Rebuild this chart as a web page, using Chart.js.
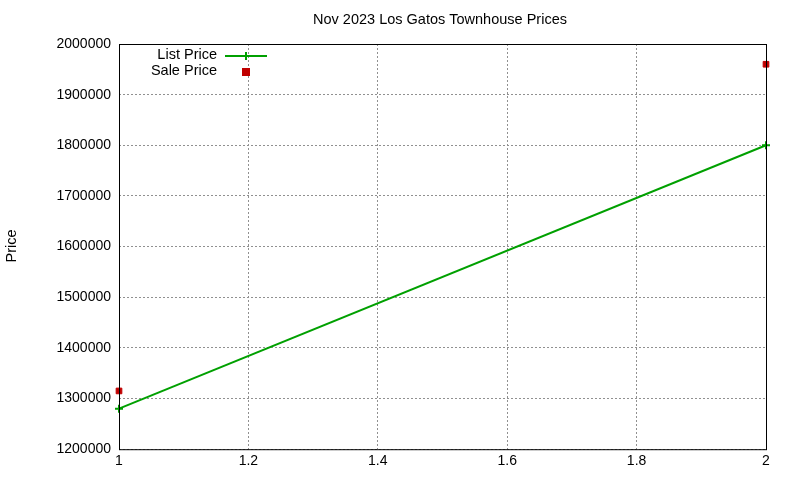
<!DOCTYPE html>
<html><head><meta charset="utf-8">
<script src="https://cdn.jsdelivr.net/npm/chart.js@4"></script>
<style>html,body{margin:0;padding:0;background:#fff}#w{width:800px;height:480px}</style>
</head><body><div id="w"><canvas id="c" width="800" height="480"></canvas></div>
<script>
const xValues = [1, 2];
const listPrice = [1280000, 1800000];
const salePrice = [1315000, 1960000];
const titleText = 'Nov 2023 Los Gatos Townhouse Prices';
const yTitle = 'Price';
const legendLabels = ['List Price', 'Sale Price'];

const F = 'Liberation Sans, Arial, sans-serif';
const deco = {
  id: 'deco',
  afterDraw(ch) {
    const c = ch.ctx, a = ch.chartArea;
    c.save();
    c.strokeStyle = '#000'; c.lineWidth = 1; c.setLineDash([]);
    c.strokeRect(a.left + 0.5, a.top + 0.5, a.right - a.left, a.bottom - a.top);
    c.font = '14.5px ' + F; c.fillStyle = '#000';
    c.textAlign = 'center'; c.textBaseline = 'middle';
    c.fillText(titleText, 440, 20);
    c.translate(12, 246); c.rotate(-Math.PI / 2); c.fillText(yTitle, 0, 0);
    c.restore();
    c.save();
    c.font = '14.5px ' + F; c.fillStyle = '#000';
    c.textAlign = 'right'; c.textBaseline = 'middle';
    c.fillText(legendLabels[0], 217, 55);
    c.fillText(legendLabels[1], 217, 71);
    c.strokeStyle = '#00a000'; c.lineWidth = 2;
    c.beginPath(); c.moveTo(225, 56); c.lineTo(267, 56);
    c.moveTo(246, 52); c.lineTo(246, 60); c.stroke();
    c.fillStyle = '#c00000'; c.fillRect(242, 68, 8, 8);
    c.restore();
  }
};
const gridOpts = { color: '#909090', drawTicks: false, lineWidth: 1 };
const borderOpts = { display: false, dash: [2, 2] };
new Chart(document.getElementById('c'), {
  type: 'scatter',
  data: { datasets: [
    { label: legendLabels[0], data: xValues.map((x, i) => ({x, y: listPrice[i]})), showLine: true, clip: false,
      borderColor: '#00a000', backgroundColor: '#00a000', borderWidth: 2, pointStyle: 'cross', pointRadius: 4, pointBorderWidth: 2 },
    { label: legendLabels[1], data: xValues.map((x, i) => ({x, y: salePrice[i]})), showLine: false, clip: false,
      borderColor: '#c00000', backgroundColor: '#c00000', pointStyle: 'rect', pointRadius: 4 }
  ]},
  options: {
    responsive: false, animation: false,
    layout: { padding: { left: 0, right: 34, top: 44, bottom: 6 } },
    plugins: { legend: { display: false }, title: { display: false }, tooltip: { enabled: false } },
    scales: {
      x: { type: 'linear', min: 1, max: 2,
        ticks: { stepSize: 0.2, color: '#000', font: { family: F, size: 14 }, padding: 4,
          callback: v => Number(v.toFixed(1)).toString() },
        grid: gridOpts, border: borderOpts },
      y: { min: 1200000, max: 2000000,
        afterFit: s => { s.width = 119; },
        ticks: { stepSize: 100000, color: '#000', font: { family: F, size: 14 }, padding: 8,
          callback: v => String(v) },
        grid: gridOpts, border: borderOpts }
    }
  },
  plugins: [deco]
});
</script></body></html>
